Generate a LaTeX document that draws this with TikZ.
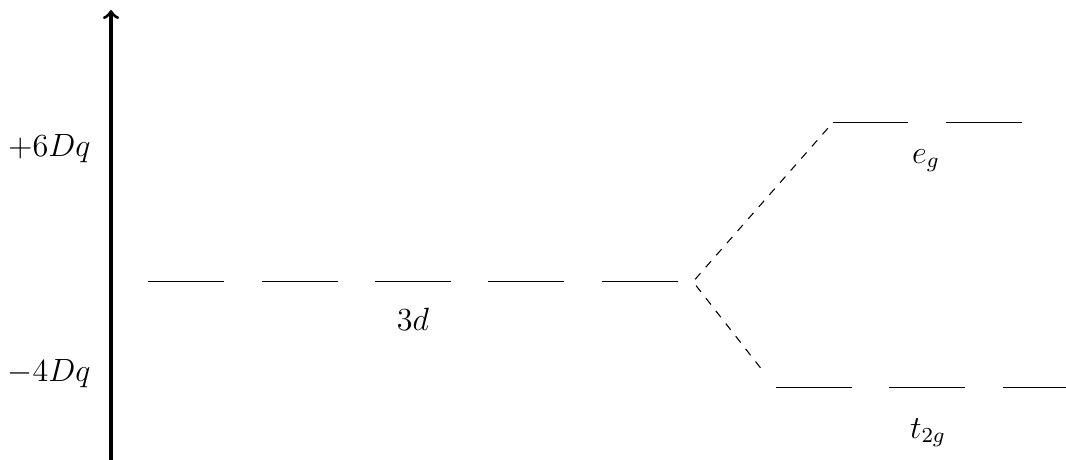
\documentclass[tikz,border=0pt]{standalone}
\usetikzlibrary{calc}
\begin{document}
\begin{tikzpicture}[x=0.373pt,y=-0.373pt,font=\large,
  lvl/.style={line width=0.4pt},
  conn/.style={dashed,line width=0.4pt},
  lab/.style={inner sep=0pt,anchor=base},
  axlab/.style={inner sep=0pt,anchor=base east}]
\useasboundingbox (0,0) rectangle (1066,459);
% axis
\coordinate (axb) at (111,462);
\coordinate (axt) at (111,10);
\draw[very thick,->] (axb) -- (axt);
\node[axlab] (up) at (91,156) {$+6Dq$};
\node[axlab] (dn) at (91,381) {$-4Dq$};
% 3d levels
\foreach \i in {0,...,4}{
  \draw[lvl] ({148.3+113.3*\i},281.7) -- ({224.3+113.3*\i},281.7);
}
\node[lab] (d3) at (413,330.5) {$3d$};
% eg levels
\coordinate (eg1) at (832.7,122.7);
\draw[lvl] (eg1) -- (908.3,122.7);
\draw[lvl] (946,122.7) -- (1021.7,122.7);
\node[lab] (eg) at (926,163) {$e_g$};
% t2g levels
\coordinate (t1) at (776,387.7);
\draw[lvl] (t1) -- (851.7,387.7);
\draw[lvl] (889.3,387.7) -- (965,387.7);
\draw[lvl] (1003.3,387.7) -- (1079,387.7);
\node[lab] (t2g) at (928,438) {$t_{2g}$};
% connectors
\coordinate (v) at (693,281.7);
\coordinate (ce) at ($(v)!0.965!(eg1)$);
\coordinate (ct) at ($(v)!0.87!(t1)$);
\draw[conn] (ce) -- (v) -- (ct);
\end{tikzpicture}
\end{document}
